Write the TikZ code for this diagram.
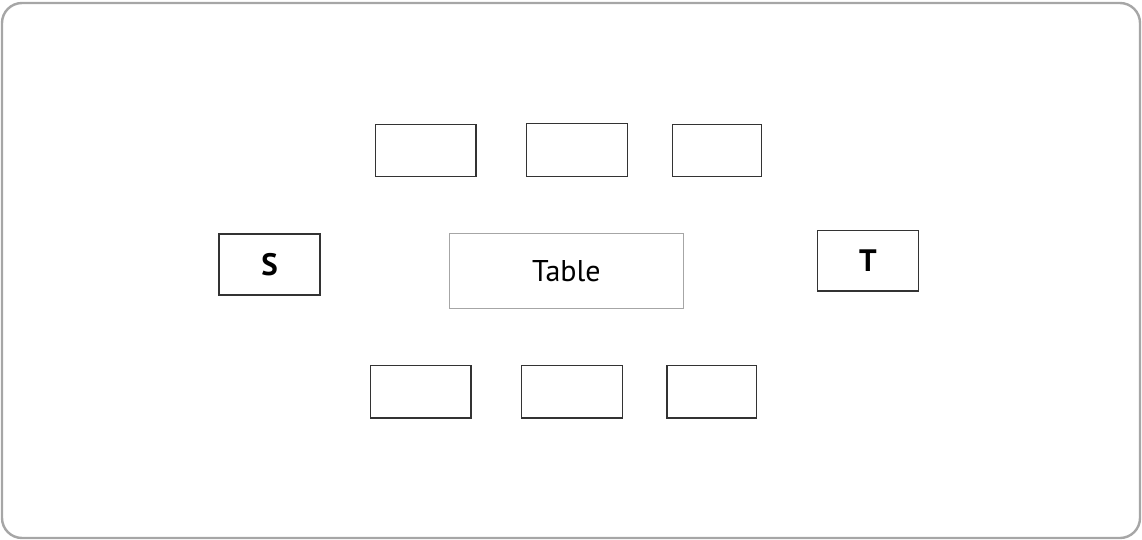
\documentclass[tikz,border=0pt]{standalone}
\usepackage{fontspec}
\setmainfont{PT Sans}
\begin{document}
\begin{tikzpicture}[x=1pt,y=-1pt,
  seat/.style={draw=black!80,line width=1.2pt,rectangle,inner sep=0pt,font=\bfseries\fontsize{31}{32}\selectfont},
  tablebox/.style={draw=black!35,line width=1pt,rectangle,inner sep=0pt,font=\fontsize{30}{31}\selectfont},
  frame/.style={draw=black!35,line width=2.4pt,rounded corners=20pt}]
\useasboundingbox (0,0) rectangle (1142,540);
\draw[frame] (2,3) rectangle (1140,538);
\newcommand{\seatbox}[5]{\node[seat,minimum width={#4-#2},minimum height={#5-#3}] (#1) at ({(#2+#4)/2},{(#3+#5)/2}) {};}
\seatbox{t1}{375.5}{124.3}{476}{176.7}
\seatbox{t2}{526.7}{123.7}{627.3}{176.3}
\seatbox{t3}{672.3}{124.3}{761.7}{176.7}
\seatbox{b1}{370.7}{365.3}{471}{418}
\seatbox{b2}{521.7}{365.3}{622.3}{418}
\seatbox{b3}{667}{365.7}{756.7}{418}
\node[seat,minimum width=101,minimum height=61] (S) at (269.5,264.5) {S};
\node[seat,minimum width=100.6,minimum height=60.7] (T) at (868,260.7) {T};
\node[tablebox,minimum width=234,minimum height=75] (table) at (566.3,270.8) {\raisebox{-2pt}{Table}};
\end{tikzpicture}
\end{document}
